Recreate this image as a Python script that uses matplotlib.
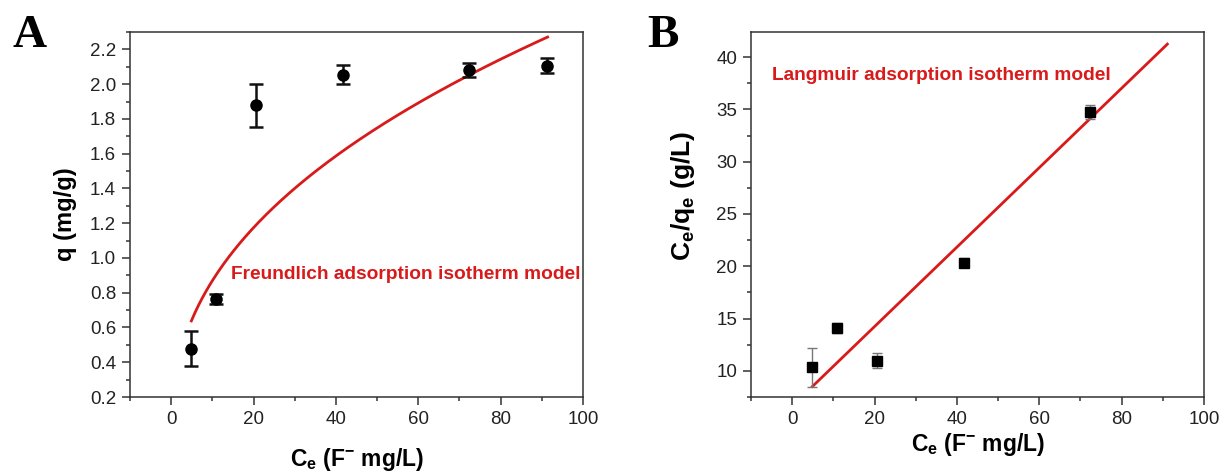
import matplotlib
matplotlib.use("Agg")
import matplotlib.pyplot as plt
import numpy as np
from matplotlib.ticker import MultipleLocator, FormatStrFormatter

plt.rcParams['font.family'] = ['Liberation Sans', 'DejaVu Sans']
plt.rcParams['mathtext.fontset'] = 'custom'
plt.rcParams['mathtext.rm'] = 'Liberation Sans'
plt.rcParams['mathtext.bf'] = 'Liberation Sans:bold'
plt.rcParams['mathtext.it'] = 'Liberation Sans:italic'

# ---- Panel A data (Freundlich) ----
ce_a = [4.9, 10.9, 20.5, 41.8, 72.3, 91.2]
q_a = [0.479, 0.765, 1.878, 2.054, 2.083, 2.106]
q_a_err = [0.102, 0.030, 0.122, 0.055, 0.040, 0.042]
freund_K = 0.320
freund_inv_n = 0.434
freund_x_range = [4.9, 91.4]

# ---- Panel B data (Langmuir) ----
ce_b = [4.9, 10.9, 20.6, 41.7, 72.2]
ceqe_b = [10.35, 14.11, 10.96, 20.33, 34.73]
ceqe_b_err = [1.88, 0.50, 0.72, 0.42, 0.65]
lang_slope = 0.3798
lang_intercept = 6.64
lang_x_range = [4.9, 91.1]

x_ticks = [0, 20, 40, 60, 80, 100]

W, H = 1220, 472
fig = plt.figure(figsize=(W / 100, H / 100), dpi=100)

spine_color = '#333333'
red = '#d91a1a'
AX_TOP, AX_BOT = 32, 397


def style_axes(ax):
    for s in ax.spines.values():
        s.set_color(spine_color)
        s.set_linewidth(1.1)
    ax.tick_params(which='both', direction='out', top=False, right=False,
                   colors=spine_color, labelcolor='#222222', labelsize=13.5)
    ax.tick_params(which='major', length=6, width=1.1, pad=4)
    ax.tick_params(which='minor', length=3, width=1.1)


def frac_y(py):
    return (AX_BOT - py) / (AX_BOT - AX_TOP)


# Panel A
axA = fig.add_axes([130 / W, 1 - AX_BOT / H, (583 - 130) / W, (AX_BOT - AX_TOP) / H])
style_axes(axA)
xs = np.linspace(freund_x_range[0], freund_x_range[1], 200)
axA.plot(xs, freund_K * xs ** freund_inv_n, color=red, lw=2.0, zorder=2)
axA.errorbar(ce_a, q_a, yerr=q_a_err, fmt='o', color='black', ms=8,
             ecolor='#111111', elinewidth=1.8, capsize=5, capthick=1.8, zorder=3)
axA.set_xlim(-10, 100)
axA.set_ylim(0.2, 2.3)
axA.set_xticks(x_ticks)
axA.xaxis.set_minor_locator(MultipleLocator(10))
axA.set_yticks(np.arange(0.2, 2.21, 0.2))
axA.yaxis.set_major_formatter(FormatStrFormatter('%.1f'))
axA.yaxis.set_minor_locator(MultipleLocator(0.1))
axA.set_ylabel('q (mg/g)', fontsize=17, fontweight='bold')
axA.yaxis.set_label_coords((77 - 130) / (583 - 130), 0.5)
axA.set_xlabel(r'C$_\mathbf{e}$ (F$^\mathbf{-}$ mg/L)', fontsize=16.5,
               fontweight='bold')
axA.xaxis.set_label_coords(0.5, frac_y(446))
axA.text(14.5, 0.903, 'Freundlich adsorption isotherm model', color=red,
         fontsize=13.8, fontweight='bold', va='center', ha='left')
fig.text(12 / W, 1 - 47 / H, 'A', family='Liberation Serif', fontweight='bold',
         fontsize=34, va='baseline', ha='left')

# Panel B
axB = fig.add_axes([751 / W, 1 - AX_BOT / H, (1204 - 751) / W, (AX_BOT - AX_TOP) / H])
style_axes(axB)
xl = np.array(lang_x_range)
axB.plot(xl, lang_slope * xl + lang_intercept, color=red, lw=2.0, zorder=2)
axB.errorbar(ce_b, ceqe_b, yerr=ceqe_b_err, fmt='s', color='black', ms=7,
             ecolor='#777777', elinewidth=1.0, capsize=3.5, capthick=1.0, zorder=3)
axB.set_xlim(-10, 100)
axB.set_ylim(7.5, 42.4)
axB.set_xticks(x_ticks)
axB.xaxis.set_minor_locator(MultipleLocator(10))
axB.set_yticks([10, 15, 20, 25, 30, 35, 40])
axB.yaxis.set_minor_locator(MultipleLocator(2.5))
axB.set_ylabel(r'C$_\mathbf{e}$/q$_\mathbf{e}$ (g/L)', fontsize=19,
               fontweight='bold')
axB.yaxis.set_label_coords((697 - 751) / (1204 - 751), frac_y(196))
axB.set_xlabel(r'C$_\mathbf{e}$ (F$^\mathbf{-}$ mg/L)', fontsize=16.5,
               fontweight='bold')
axB.xaxis.set_label_coords(0.5, frac_y(431))
axB.text(-4.8, 38.2, 'Langmuir adsorption isotherm model', color=red,
         fontsize=13.8, fontweight='bold', va='center', ha='left')
fig.text(647 / W, 1 - 47 / H, 'B', family='Liberation Serif', fontweight='bold',
         fontsize=34, va='baseline', ha='left')

fig.savefig('out.png', dpi=100)
